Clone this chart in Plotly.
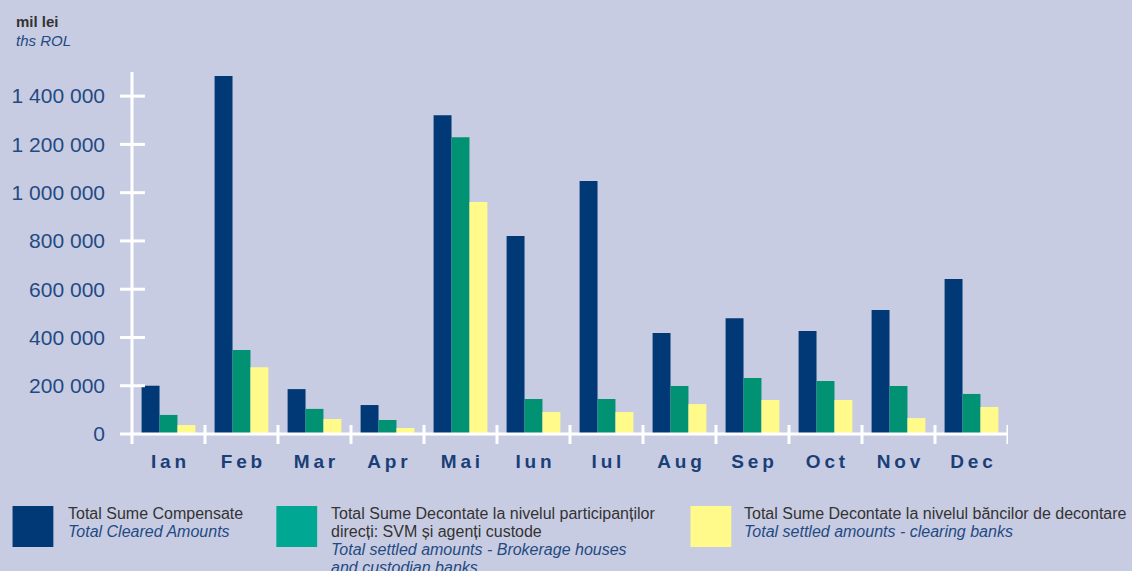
import plotly.graph_objects as go

months = ["Ian", "Feb", "Mar", "Apr", "Mai", "Iun", "Iul", "Aug", "Sep", "Oct", "Nov", "Dec"]
cleared = [200000, 1483000, 186000, 120000, 1321000, 820000, 1048000, 418000, 480000, 427000, 514000, 642000]
settled_direct = [79000, 348000, 104000, 58000, 1230000, 145000, 145000, 199000, 232000, 220000, 199000, 166000]
settled_banks = [37000, 277000, 62000, 25000, 961000, 91000, 91000, 124000, 141000, 141000, 66000, 112000]
y_ticks = [0, 200000, 400000, 600000, 800000, 1000000, 1200000, 1400000]
y_tick_text = ["0", "200 000", "400 000", "600 000", "800 000", "1 000 000", "1 200 000", "1 400 000"]

legend_items = [
    ("Total Sume Compensate", "", "Total Cleared Amounts", ""),
    ("Total Sume Decontate la nivelul participanților", "direcți: SVM și agenți custode",
     "Total settled amounts - Brokerage houses", "and custodian banks"),
    ("Total Sume Decontate la nivelul băncilor de decontare", "", "Total settled amounts - clearing banks", ""),
]

BG = "#c8cce2"
C_DARK = "#003975"
C_GREEN = "#009272"
C_GREEN_LEG = "#00a893"
C_YELLOW = "#fffa8a"
TXT_BLUE = "#1f4a82"
TXT_GRAY = "#333333"
FONT = "Liberation Sans, Arial, sans-serif"

fig = go.Figure()
for vals, col in [(cleared, C_DARK), (settled_direct, C_GREEN), (settled_banks, C_YELLOW)]:
    fig.add_trace(go.Bar(x=list(range(len(months))), y=vals, marker=dict(color=col, line=dict(width=0)),
                         showlegend=False))

W, H = 1132, 571
L, R, T, B = 128, 124, 72, 137
PW = W - L - R
PH = H - T - B

def px_x(px):
    return (px - L) / PW

def px_y(py):
    return (H - B - py) / PH

shapes = []
line = dict(color="white", width=3)
# y axis line
shapes.append(dict(type="line", xref="paper", yref="paper", x0=0, x1=0, y0=px_y(444), y1=1, line=line))
# x axis line
shapes.append(dict(type="line", xref="paper", yref="paper", x0=0, x1=1, y0=0, y1=0, line=line))
# y ticks crossing axis
for v in y_ticks[1:]:
    shapes.append(dict(type="line", xref="paper", yref="y", x0=px_x(116), x1=px_x(141), y0=v, y1=v, line=line))
shapes.append(dict(type="line", xref="paper", yref="paper", x0=px_x(116), x1=0, y0=0, y1=0, line=line))
# x ticks at category boundaries
for i in range(1, len(months) + 1):
    shapes.append(dict(type="line", xref="x", yref="paper", x0=i - 0.5, x1=i - 0.5,
                       y0=px_y(444), y1=px_y(425), line=line))

annotations = [
    dict(text="<b>mil lei</b>", x=px_x(10), y=px_y(21), xref="paper", yref="paper", xanchor="left",
         yanchor="middle", showarrow=False, font=dict(family=FONT, size=15, color=TXT_GRAY), borderpad=0),
    dict(text="<i>ths ROL</i>", x=px_x(10), y=px_y(40), xref="paper", yref="paper", xanchor="left",
         yanchor="middle", showarrow=False, font=dict(family=FONT, size=15, color=TXT_BLUE), borderpad=0),
]

leg_sq_x = [8, 273, 689]
leg_txt_x = [63, 327, 742]
leg_colors = [C_DARK, C_GREEN_LEG, C_YELLOW]
for k, item in enumerate(legend_items):
    shapes.append(dict(type="rect", xref="paper", yref="paper", x0=px_x(leg_sq_x[k]), x1=px_x(leg_sq_x[k] + 41),
                       y0=px_y(547), y1=px_y(506), fillcolor=leg_colors[k], line=dict(width=0)))
    ro1, ro2, en1, en2 = item
    lines = [(ro1, False), (ro2, False), (en1, True), (en2, True)]
    lines = [l for l in lines if l[0]]
    for j, (txt, it) in enumerate(lines):
        annotations.append(dict(text=f"<i>{txt}</i>" if it else txt, x=px_x(leg_txt_x[k]), y=px_y(513 + 18.2 * j),
                                xref="paper", yref="paper", xanchor="left", yanchor="middle", showarrow=False,
                                borderpad=0,
                                font=dict(family=FONT, size=16, color=TXT_BLUE if it else TXT_GRAY)))

spaced = ["\u2009".join(m) for m in months]

fig.update_layout(
    width=W, height=H,
    margin=dict(l=L, r=R, t=T, b=B, pad=0),
    paper_bgcolor=BG, plot_bgcolor=BG,
    barmode="group", bargap=0.263, bargroupgap=0,
    shapes=shapes, annotations=annotations,
    xaxis=dict(range=[-0.5, len(months) - 0.5], tickvals=list(range(len(months))), ticktext=spaced,
               showgrid=False, zeroline=False, showline=False, ticks="",
               tickfont=dict(family=FONT, size=19, color="#1a3f78", weight="bold"), ticklabelstandoff=14),
    yaxis=dict(range=[0, 1500000], tickvals=y_ticks, ticktext=y_tick_text, showgrid=False, zeroline=False,
               showline=False, ticks="", tickfont=dict(family=FONT, size=21, color=TXT_BLUE),
               ticklabelstandoff=26),
)

fig.write_html("out.html", config={"displayModeBar": False},
               post_script="document.body.style.margin='0px';document.body.style.overflow='hidden';")
